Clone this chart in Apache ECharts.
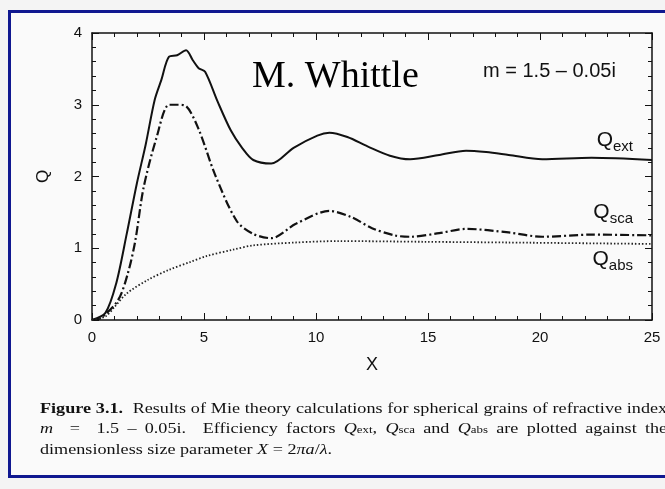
<!DOCTYPE html>
<html>
<head>
<meta charset="utf-8">
<script src="https://cdn.jsdelivr.net/npm/echarts@6/dist/echarts.min.js"></script>
<style>
body { margin: 0; background: #f4f4f4; }
#frame { position: absolute; left: 8px; top: 10px; width: 660px; height: 468px; border: 3px solid #101890; border-right: none; background: #fafafa; box-sizing: border-box; }
#area { position: absolute; left: 0; top: 0; width: 665px; height: 489px; }
#cap { position: absolute; left: 40px; top: 398px; width: 536px; font-family: "Liberation Serif", serif; font-size: 15.5px; line-height: 19.5px; color: #111; white-space: nowrap; transform: scaleX(1.17); transform-origin: left top; }
#cap .j { text-align: justify; text-align-last: justify; }
</style>
</head>
<body>
<div id="frame"></div>
<div id="area"></div>
<div id="cap"><div class="j"><b>Figure 3.1.</b>&nbsp; Results of Mie theory calculations for spherical grains of refractive index</div>
<div class="j"><i>m</i> &nbsp;= &nbsp;1.5 – 0.05i. &nbsp;Efficiency factors <i>Q</i><span style="font-size:11px">ext</span>, <i>Q</i><span style="font-size:11px">sca</span> and <i>Q</i><span style="font-size:11px">abs</span> are plotted against the</div>
<div>dimensionless size parameter <i>X</i> = 2<i>πa</i>/<i>λ</i>.</div></div>
<script>
var qExt = [[0,0],[0.6,0.1],[1.08,0.51],[1.55,1.2],[2.0,1.9],[2.4,2.45],[2.8,3.07],[3.1,3.35],[3.44,3.67],[3.8,3.69],[4.2,3.76],[4.5,3.62],[4.76,3.51],[5.05,3.46],[5.6,3.05],[6.2,2.64],[6.7,2.4],[7.2,2.23],[8.0,2.18],[9.0,2.4],[10.06,2.57],[10.6,2.61],[11.4,2.55],[12.3,2.42],[13.3,2.29],[14.2,2.24],[15.5,2.3],[16.7,2.36],[17.6,2.34],[18.6,2.3],[20.1,2.24],[22.3,2.26],[25,2.23]];
var qSca = [[0,0],[0.4,0.03],[1.17,0.28],[1.6,0.65],[1.93,1.1],[2.3,1.84],[2.87,2.53],[3.44,3.0],[3.8,3.0],[4.2,2.98],[4.76,2.66],[5.5,2.02],[6.46,1.38],[7.2,1.2],[8.0,1.14],[9.1,1.34],[10.6,1.52],[11.6,1.43],[12.5,1.28],[13.5,1.18],[14.2,1.16],[15.5,1.21],[16.7,1.27],[18.6,1.22],[20.1,1.16],[22.3,1.19],[25,1.18]];
var qAbs = [[0,0],[0.6,0.05],[1.0,0.18],[1.55,0.37],[2.5,0.56],[3.44,0.7],[4.4,0.81],[5.1,0.89],[6.3,0.98],[7.2,1.04],[9.1,1.08],[11,1.1],[14.8,1.09],[18.6,1.08],[25,1.06]];
var xTicks = [0, 5, 10, 15, 20, 25];
var yTicks = [0, 1, 2, 3, 4];

var chart = echarts.init(document.getElementById('area'));
var font = 'Liberation Sans, Arial, sans-serif';
function ax(show, pos) {
    return {
        position: pos, min: 0, type: 'value',
        axisLine: { show: true, onZero: false, lineStyle: { color: '#111', width: 1.5 } },
        axisTick: { show: true, inside: true, length: 7, lineStyle: { color: '#111' } },
        minorTick: { show: true, splitNumber: 5, length: 4, lineStyle: { color: '#111' } },
        splitLine: { show: false },
        axisLabel: { show: show, color: '#111', fontSize: 15, fontFamily: font, margin: 10 }
    };
}
var xa = ax(true, 'bottom'); xa.max = 25; xa.interval = 5;
xa.name = 'X'; xa.nameLocation = 'middle'; xa.nameGap = 36; xa.nameTextStyle = { fontSize: 18, color: '#111', fontFamily: font };
var xt = ax(false, 'top'); xt.max = 25; xt.interval = 5;
var ya = ax(true, 'left'); ya.max = 4; ya.interval = 1;
ya.name = 'Q'; ya.nameLocation = 'middle'; ya.nameGap = 40; ya.nameRotate = 90; ya.nameTextStyle = { fontSize: 17, color: '#111', fontFamily: font };
var yr = ax(false, 'right'); yr.max = 4; yr.interval = 1;

var lab = function (t, s, y) {
    return { type: 'text', right: 32, top: y, style: { text: '{a|' + t + '}{b|' + s + '}', rich: { a: { fontSize: 21, fontFamily: font, fill: '#111' }, b: { fontSize: 15, fontFamily: font, fill: '#111', verticalAlign: 'bottom', padding: [12, 0, 0, 0] } } } };
};
chart.setOption({
    animation: false,
    grid: { left: 92, right: 13, top: 33, bottom: 169 },
    xAxis: [xa, xt],
    yAxis: [ya, yr],
    graphic: [
        { type: 'text', left: 252, top: 58, style: { text: 'M. Whittle', fontSize: 38, fontFamily: 'Liberation Serif, serif', fill: '#000' } },
        { type: 'text', left: 483, top: 61, style: { text: 'm = 1.5 – 0.05i', fontSize: 20, fontFamily: font, fill: '#111' } },
        lab('Q', 'ext', 130),
        lab('Q', 'sca', 202),
        lab('Q', 'abs', 249)
    ],
    series: [
        { type: 'line', data: qExt, smooth: 0.3, showSymbol: false, lineStyle: { color: '#111', width: 2 } },
        { type: 'line', data: qSca, smooth: 0.3, showSymbol: false, lineStyle: { color: '#111', width: 2.2, type: [9, 3, 2, 3] } },
        { type: 'line', data: qAbs, smooth: 0.3, showSymbol: false, lineStyle: { color: '#222', width: 1.8, type: [1.5, 2] } }
    ]
});
</script>
</body>
</html>
